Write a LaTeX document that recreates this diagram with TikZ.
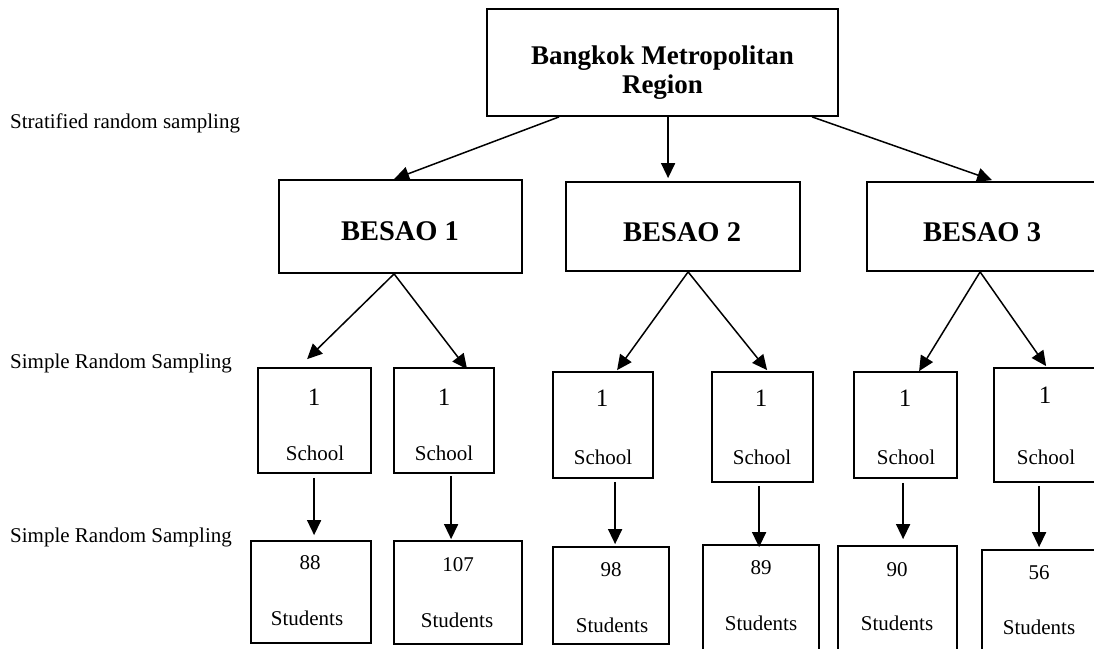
\documentclass[tikz,border=0pt]{standalone}
\usepackage{fontspec}
\setmainfont{Liberation Serif}
\usetikzlibrary{arrows.meta,calc}
\tikzset{
  box/.style={draw=black, line width=1.8pt, rectangle, inner sep=0pt, fill=white},
  arr/.style={line width=1.5pt, -{Triangle[length=15pt,width=14pt]}},
  txt/.style={inner sep=0pt, font=\fontsize{21}{21}\selectfont},
  one/.style={inner sep=0pt, font=\fontsize{25}{25}\selectfont},
  bold/.style={inner sep=0pt, font=\fontsize{28.5}{28.5}\selectfont\bfseries},
}
\begin{document}
\begin{tikzpicture}[x=1pt,y=-1pt]
\useasboundingbox (0,0) rectangle (1094,648);
\fill[white] (0,0) rectangle (1094,648);
\clip (0,0) rectangle (1094,648);

% left labels
\node[txt, anchor=west] (L1) at (10,123) {Stratified random sampling};
\node[txt, anchor=west] (L2) at (10,363) {Simple Random Sampling};
\node[txt, anchor=west] (L3) at (10,537) {Simple Random Sampling};

% top box
\node[box, minimum width=351pt, minimum height=107pt] (Top) at (662.5,62.5) {};
\node[inner sep=0pt, align=center, font=\fontsize{27}{29}\selectfont\bfseries] (TopT) at (662.5,73) {Bangkok Metropolitan\\Region};

% BESAO boxes
\node[box, minimum width=243pt, minimum height=93pt] (B1) at (400.5,226.5) {};
\node[box, minimum width=234pt, minimum height=89pt] (B2) at (683,226.5) {};
\node[box, minimum width=232pt, minimum height=89pt] (B3) at (983,226.5) {};
\node[bold] (B1T) at (400,231) {BESAO 1};
\node[bold] (B2T) at (682,232) {BESAO 2};
\node[bold] (B3T) at (982,232) {BESAO 3};

% school boxes
\node[box, minimum width=113pt, minimum height=105pt] (S1) at (314.5,420.5) {};
\node[box, minimum width=100pt, minimum height=105pt] (S2) at (444,420.5) {};
\node[box, minimum width=100pt, minimum height=106pt] (S3) at (603,425) {};
\node[box, minimum width=101pt, minimum height=110pt] (S4) at (762.5,427) {};
\node[box, minimum width=103pt, minimum height=106pt] (S5) at (905.5,425) {};
\node[box, minimum width=106pt, minimum height=114pt] (S6) at (1047,425) {};

\node[one] (S1a) at (314,397) {1};  \node[txt] (S1b) at (315,453) {School};
\node[one] (S2a) at (444,397) {1};  \node[txt] (S2b) at (444,453) {School};
\node[one] (S3a) at (602,398) {1};  \node[txt] (S3b) at (603,457) {School};
\node[one] (S4a) at (761,398) {1};  \node[txt] (S4b) at (762,457) {School};
\node[one] (S5a) at (905,398) {1};  \node[txt] (S5b) at (906,457) {School};
\node[one] (S6a) at (1045,395) {1}; \node[txt] (S6b) at (1046,457) {School};

% student boxes
\node[box, minimum width=120pt, minimum height=102pt] (T1) at (311,592) {};
\node[box, minimum width=128pt, minimum height=103pt] (T2) at (458,592.5) {};
\node[box, minimum width=116pt, minimum height=97pt]  (T3) at (611,595.5) {};
\node[box, minimum width=116pt, minimum height=107pt] (T4) at (761,598.5) {};
\node[box, minimum width=119pt, minimum height=106pt] (T5) at (897.5,599) {};
\node[box, minimum width=114pt, minimum height=102pt] (T6) at (1039,601) {};

\node[txt] (T1a) at (310,563) {88};   \node[txt] (T1b) at (307,618) {Students};
\node[txt] (T2a) at (458,565) {107};  \node[txt] (T2b) at (457,620) {Students};
\node[txt] (T3a) at (611,570) {98};   \node[txt] (T3b) at (612,625) {Students};
\node[txt] (T4a) at (761,568) {89};   \node[txt] (T4b) at (761,623) {Students};
\node[txt] (T5a) at (897,570) {90};   \node[txt] (T5b) at (897,623) {Students};
\node[txt] (T6a) at (1039,573) {56};  \node[txt] (T6b) at (1039,627) {Students};

% arrows: top -> BESAO
\draw[arr] ($(Top.south west)+(73,0)$)  -- ($(B1.north west)+(116,0)$);
\draw[arr] ($(Top.south west)+(182,0)$) -- ($(B2.north west)+(103,-3)$);
\draw[arr] ($(Top.south west)+(326,0)$) -- ($(B3.north west)+(126,-1)$);

% BESAO -> schools
\draw[arr] ($(B1.south west)+(116,0)$) -- ($(S1.north west)+(50,-8)$);
\draw[arr] ($(B1.south west)+(116,0)$) -- ($(S2.north west)+(74,2)$);
\draw[arr] ($(B2.south west)+(123,0)$) -- ($(S3.north west)+(65,-1)$);
\draw[arr] ($(B2.south west)+(123,0)$) -- ($(S4.north west)+(56,-1)$);
\draw[arr] ($(B3.south west)+(114,0)$) -- ($(S5.north west)+(66,0)$);
\draw[arr] ($(B3.south west)+(114,0)$) -- ($(S6.north west)+(53,-1)$);

% schools -> students
\draw[arr] ($(S1.south west)+(57,4)$) -- ($(T1.north west)+(64,-5)$);
\draw[arr] ($(S2.south west)+(58,2)$) -- ($(T2.north west)+(58,-1)$);
\draw[arr] ($(S3.south west)+(63,3)$) -- ($(T3.north west)+(63,-2)$);
\draw[arr] ($(S4.south west)+(48,3)$) -- ($(T4.north west)+(57,3)$);
\draw[arr] ($(S5.south west)+(50,4)$) -- ($(T5.north west)+(66,-6)$);
\draw[arr] ($(S6.south west)+(46,3)$) -- ($(T6.north west)+(58,-2)$);
\end{tikzpicture}
\end{document}
